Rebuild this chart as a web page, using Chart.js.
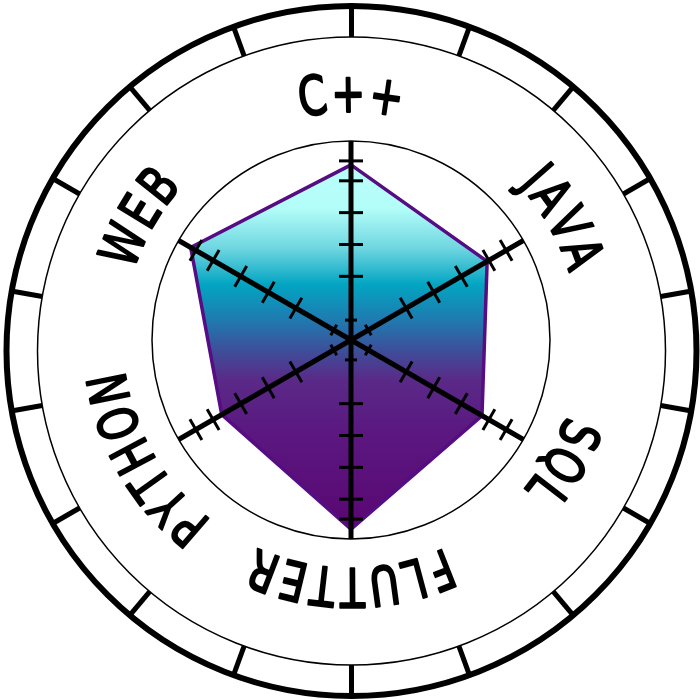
<!DOCTYPE html>
<html><head><meta charset="utf-8">
<script src="https://cdn.jsdelivr.net/npm/chart.js@4.4.1/dist/chart.umd.min.js"></script>
<style>html,body{margin:0;padding:0;background:#fff}canvas{display:block}</style>
</head><body>
<canvas id="c" width="700" height="700"></canvas>
<script>
// ---- data ----
const categories = ['C++', 'JAVA', 'SQL', 'FLUTTER', 'PYTHON', 'WEB'];
const skillValues = [88, 79, 76, 95, 75, 93];
const axisTickValues = [10, 32, 48, 64, 80, 90];
const scaleMin = 0;
const scaleMax = 100;
const ringTickCount = 18;

// ---- decorations ----
const ringPlugin = {
  id: 'ring',
  beforeDraw(chart) {
    const ctx = chart.ctx;
    ctx.save();
    ctx.fillStyle = '#fff';
    ctx.fillRect(0, 0, chart.width, chart.height);
    const cx = 351.5, cy = 351, rOut = 345, rIn = 314;
    ctx.strokeStyle = '#000';
    ctx.lineWidth = 6;
    ctx.beginPath(); ctx.arc(cx, cy, rOut, 0, Math.PI * 2); ctx.stroke();
    ctx.lineWidth = 1.5;
    ctx.beginPath(); ctx.arc(cx, cy, rIn, 0, Math.PI * 2); ctx.stroke();
    ctx.lineWidth = 5;
    for (let k = 0; k < ringTickCount; k++) {
      const a = -Math.PI / 2 + k * 2 * Math.PI / ringTickCount;
      ctx.beginPath();
      ctx.moveTo(cx + rIn * Math.cos(a), cy + rIn * Math.sin(a));
      ctx.lineTo(cx + (rOut + 2) * Math.cos(a), cy + (rOut + 2) * Math.sin(a));
      ctx.stroke();
    }
    ctx.restore();
  }
};

// angle lines + perpendicular tick marks, drawn over the filled polygon
const axisPlugin = {
  id: 'axisTicks',
  afterDatasetsDraw(chart) {
    const s = chart.scales.r, ctx = chart.ctx;
    ctx.save();
    ctx.strokeStyle = '#000';
    const outer = s.getDistanceFromCenterForValue(scaleMax);
    categories.forEach((c, i) => {
      const p = s.getPointPosition(i, outer);
      ctx.lineWidth = 5;
      ctx.beginPath();
      ctx.moveTo(s.xCenter, s.yCenter);
      ctx.lineTo(p.x, p.y);
      ctx.stroke();
    });
    ctx.lineWidth = 3;
    categories.forEach((c, i) => {
      const a = s.getIndexAngle(i) - Math.PI / 2;
      const ux = Math.cos(a), uy = Math.sin(a);
      const px = -uy, py = ux;
      axisTickValues.forEach((v, j) => {
        const d = s.getDistanceFromCenterForValue(v);
        const h = j === 0 ? 6 : 12;
        const x = s.xCenter + d * ux, y = s.yCenter + d * uy;
        ctx.beginPath();
        ctx.moveTo(x - h * px, y - h * py);
        ctx.lineTo(x + h * px, y + h * py);
        ctx.stroke();
      });
    });
    ctx.restore();
  }
};

const curvedLabelPlugin = {
  id: 'curvedLabels',
  afterDraw(chart) {
    const s = chart.scales.r, ctx = chart.ctx;
    const R = 248, fontSize = 54, sx = 0.75, gap = 5;
    const capH = fontSize * 0.73;
    ctx.save();
    ctx.font = fontSize + 'px "DejaVu Sans", sans-serif';
    ctx.fillStyle = '#000';
    ctx.strokeStyle = '#000';
    ctx.lineWidth = 2.2;
    ctx.lineJoin = 'round';
    ctx.textAlign = 'center';
    ctx.textBaseline = 'alphabetic';
    categories.forEach((label, i) => {
      const a = s.getIndexAngle(i) - Math.PI / 2;
      const chars = Array.from(label);
      const widths = chars.map(ch => ctx.measureText(ch).width * sx);
      const total = widths.reduce((p, w) => p + w, 0) + gap * (chars.length - 1);
      let off = -total / 2;
      chars.forEach((ch, k) => {
        const mid = off + widths[k] / 2;
        const phi = a + mid / R;
        ctx.save();
        ctx.translate(s.xCenter + R * Math.cos(phi), s.yCenter + R * Math.sin(phi));
        ctx.rotate(phi + Math.PI / 2);
        ctx.scale(sx, 1);
        ctx.fillText(ch, 0, capH / 2);
        ctx.strokeText(ch, 0, capH / 2);
        ctx.restore();
        off += widths[k] + gap;
      });
    });
    ctx.restore();
  }
};

function fillGradient(context) {
  const chart = context.chart;
  const area = chart.chartArea;
  if (!area) return '#1a80b0';
  const g = chart.ctx.createLinearGradient(0, area.top, 0, area.bottom);
  g.addColorStop(0.05, '#b8fffa');
  g.addColorStop(0.17, '#b3fdf8');
  g.addColorStop(0.27, '#6ed6e0');
  g.addColorStop(0.36, '#03a5c2');
  g.addColorStop(0.45, '#1f7ab0');
  g.addColorStop(0.525, '#3d4f9a');
  g.addColorStop(0.60, '#5a2a88');
  g.addColorStop(0.73, '#5b1880');
  g.addColorStop(0.98, '#5a0672');
  return g;
}

new Chart(document.getElementById('c'), {
  type: 'radar',
  data: {
    labels: categories,
    datasets: [{
      data: skillValues,
      fill: true,
      backgroundColor: fillGradient,
      borderColor: '#560c82',
      borderWidth: 3.5,
      pointRadius: 0,
      pointHoverRadius: 0,
      tension: 0
    }]
  },
  options: {
    responsive: false,
    animation: false,
    devicePixelRatio: 1,
    layout: { padding: { left: 152, right: 150, top: 141, bottom: 161 } },
    plugins: { legend: { display: false }, tooltip: { enabled: false } },
    scales: {
      r: {
        min: scaleMin,
        max: scaleMax,
        ticks: { display: false, stepSize: 100 },
        pointLabels: { display: false },
        angleLines: { display: false },
        grid: { circular: true, color: '#000', lineWidth: 1.5 }
      }
    }
  },
  plugins: [ringPlugin, axisPlugin, curvedLabelPlugin]
});
</script>
</body></html>
